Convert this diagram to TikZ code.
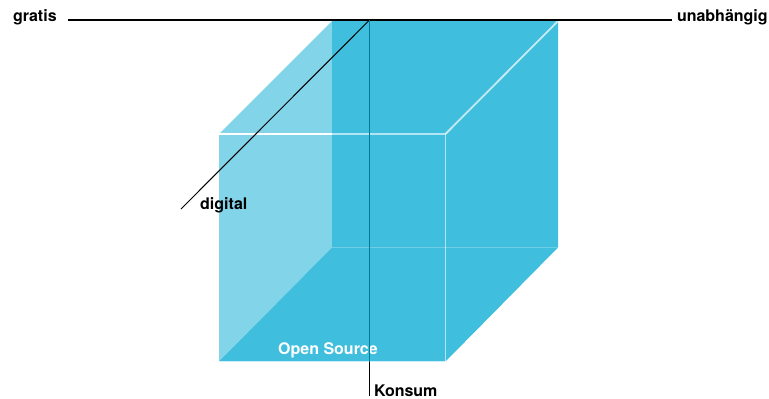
\documentclass[tikz,border=0pt]{standalone}
\usepackage{fontspec}
\setmainfont{TeX Gyre Heros}
\definecolor{cubelight}{HTML}{82D4E9}
\definecolor{cubedark}{HTML}{40BEDD}
\definecolor{axisteal}{HTML}{007A95}
\begin{document}
\begin{tikzpicture}[x=1pt,y=-1pt,
    axislabel/.style = {font=\bfseries\fontsize{16}{18}\selectfont,text=black,inner sep=0pt},
    axis/.style = {draw=black,line width=1pt},
    edge/.style = {draw=white,line width=1.8pt,opacity=#1}]
\useasboundingbox (0,0) rectangle (769,399);
\foreach \name/\x/\y in {ftl/219/134, ftr/445.5/134, fbl/219/361.5, fbr/445.5/361.5,
                         btl/332/21, btr/558/21, bbl/332/247.5, bbr/558/247.5, apex/369.5/20}
    \coordinate (\name) at (\x,\y);
\coordinate (digitalend) at (181,209);
\fill[cubelight] (btl) -- (ftl) -- (fbl) -- (bbl) -- cycle;
\fill[cubedark] (btl) -- (btr) -- (bbr) -- (fbr) -- (fbl) -- (bbl) -- cycle;
\draw[edge=1] (ftl) -- (btl |- ftl);
\draw[edge=.6] (btl |- ftl) -- (ftr) -- (fbr);
\draw[edge=.7] (ftr) -- (btr);
\draw[edge=.6] (fbl) -- (fbr);
\draw[edge=.25] (bbl) -- (bbr);
\node[axislabel,outer xsep=11pt,anchor=base west] (gratis) at (2,21) {gratis};
\node[axislabel,outer xsep=5pt,anchor=base west] (unabhaengig) at (672,21) {unabhängig};
\node[axislabel,anchor=base west] (digital) at (200,209) {digital};
\node[axislabel,outer xsep=4.5pt,anchor=base west] (konsum) at (369.5,396) {Konsum};
\node[axislabel,text=white,anchor=base west] (opensource) at (278,354) {Open Source};
\draw[axis,line width=1.3pt] (gratis.east |- apex) -- (unabhaengig.west |- apex);
\draw[axis] (apex) -- (digitalend);
\draw[axis,draw=axisteal] (apex) -- (apex |- fbl);
\draw[axis] (apex |- fbl) -- (konsum.base west);
\end{tikzpicture}
\end{document}
